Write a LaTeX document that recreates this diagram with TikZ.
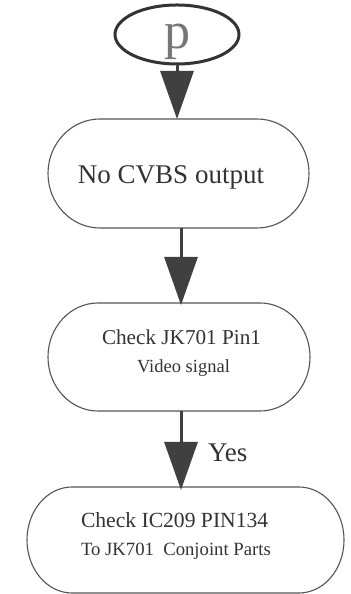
\documentclass[tikz,border=0pt]{standalone}
\usepackage{fontspec}
\setmainfont{Liberation Serif}
\usetikzlibrary{arrows.meta,shapes.geometric}
\definecolor{txt}{HTML}{333333}
\definecolor{pgray}{HTML}{777777}
\definecolor{arrc}{HTML}{404040}
\definecolor{boxc}{HTML}{555555}
\newcommand{\fs}[1]{\fontsize{#1bp}{#1bp}\selectfont}
\tikzset{
  boxline/.style={draw=boxc, line width=1.1bp},
  arr/.style={draw=arrc, line width=3bp, -{Triangle[length=48bp,width=33bp,fill=arrc]}},
  lbl/.style={inner sep=0pt, outer sep=0pt, text=txt},
  frame/.style={draw=none, inner sep=0pt, outer sep=0pt, rectangle}
}
\begin{document}
\begin{tikzpicture}[x=1bp,y=1bp]
\useasboundingbox (0,0) rectangle (350,594);
\fill[white] (0,0) rectangle (350,594);
% start ellipse
\node[ellipse, draw=txt, line width=3bp, minimum width=124bp, minimum height=59bp, inner sep=0pt, outer sep=0pt] (start) at (177,559.5) {};
\node[lbl, anchor=base, text=pgray, font=\fs{52}] (startlabel) at (177,545) {p};
% boxes (frames)
\node[frame, minimum width=261bp, minimum height=109bp] (b1) at (178.5,420.5) {};
\node[frame, minimum width=262bp, minimum height=108bp] (b2) at (179,237) {};
\node[frame, minimum width=317bp, minimum height=106bp] (b3) at (185.5,54) {};
% outlines
\draw[boxline] (100,475) -- (257,475) arc[start angle=90,end angle=-90,x radius=52,y radius=54.5]
  -- (100,366) arc[start angle=270,end angle=90,x radius=52,y radius=54.5] -- cycle;
\draw[boxline] (98,291) -- (260,291) arc[start angle=90,end angle=-90,x radius=50,y radius=54]
  -- (98,183) arc[start angle=270,end angle=90,x radius=50,y radius=54] -- cycle;
\draw[boxline] (72,107) -- (299,107) arc[start angle=90,end angle=-90,x radius=45,y radius=53]
  -- (72,1) arc[start angle=270,end angle=90,x radius=45,y radius=53] -- cycle;
% texts
\node[lbl, anchor=base, font=\fs{27}] (t1) at (171,410) {No CVBS output};
\node[lbl, anchor=base west, font=\fs{21.2}] (t2) at (102,249) {Check JK701 Pin1};
\node[lbl, anchor=base west, font=\fs{18.5}] (t3) at (137,221) {Video signal};
\node[lbl, anchor=base west, font=\fs{27}] (yes) at (208,132) {Yes};
\node[lbl, anchor=base west, font=\fs{21.6}] (t4) at (81,66) {Check IC209 PIN134};
\node[lbl, anchor=base west, font=\fs{18.7}] (t5) at (81,38) {To JK701\ \ Conjoint Parts};
% connectors
\draw[arr] (start.south) -- (start.south |- b1.north);
\draw[arr, shorten >=-2bp] ([xshift=2.5bp]b1.south) -- ([xshift=2.5bp]b1.south |- b2.north);
\draw[arr, shorten >=-3bp] ([xshift=2bp]b2.south) -- ([xshift=2bp]b2.south |- b3.north);
\end{tikzpicture}
\end{document}
